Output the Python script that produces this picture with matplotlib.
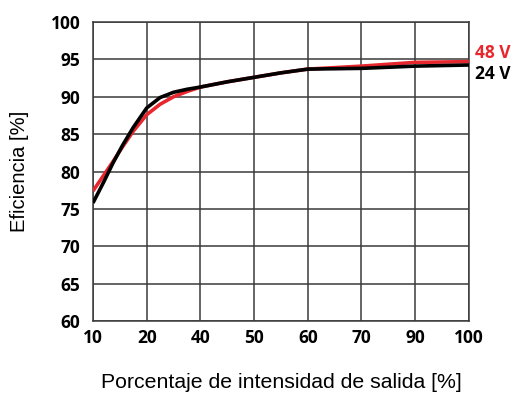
import numpy as np
import matplotlib.pyplot as plt

# x en posiciones de la rejilla (0..7), etiquetas tal como aparecen
tick_labels = ['10', '20', '40', '50', '60', '70', '90', '100']
x_pos = [0, 0.2, 0.37, 0.55, 0.75, 1.0, 1.25, 1.5, 1.75, 2.0, 2.5, 3.0, 3.5, 4.0, 5.0, 6.0, 7.0]
eff_48v = [77.4, 79.5, 81.3, 83.3, 85.4, 87.6, 89.0, 90.0, 90.7, 91.3, 92.0, 92.6, 93.2, 93.7, 94.1, 94.6, 94.7]
eff_24v = [75.8, 78.6, 81.1, 83.5, 85.9, 88.5, 89.9, 90.6, 91.0, 91.3, 92.0, 92.6, 93.2, 93.7, 93.8, 94.1, 94.25]
y_ticks = [60, 65, 70, 75, 80, 85, 90, 95, 100]

fig = plt.figure(figsize=(5.21, 3.96), dpi=100)
ax = fig.add_axes([0.1785, 0.1894, 0.7215, 0.755])

ax.plot(x_pos, eff_48v, color='#e8262d', lw=2.6, solid_capstyle='butt', zorder=3)
ax.plot(x_pos, eff_24v, color='black', lw=2.6, solid_capstyle='butt', zorder=4)

ax.set_xlim(0, 7)
ax.set_ylim(60, 100)
ax.set_xticks(range(len(tick_labels)))
ax.set_xticklabels(tick_labels)
ax.set_yticks(y_ticks)
ax.grid(True, color='#3a3a3a', lw=1.1)
ax.tick_params(axis='x', length=0, pad=6)
ax.tick_params(axis='y', length=0, pad=9)
for lab in ax.get_xticklabels() + ax.get_yticklabels():
    lab.set_fontfamily('Open Sans')
    lab.set_fontweight('bold')
    lab.set_fontsize(12.5)
for s in ax.spines.values():
    s.set_color('#3a3a3a')
    s.set_linewidth(1.1)

ax.set_xlabel('Porcentaje de intensidad de salida [%]', fontsize=15.3,
              family='Liberation Sans')
ax.set_ylabel('Eficiencia [%]', fontsize=14.5, family='Liberation Sans')
ax.xaxis.set_label_coords(0.5, -0.205)
ax.yaxis.set_label_coords(-0.195, 0.5)
ax.xaxis.label.set_va('center')
ax.yaxis.label.set_va('center')

ax.text(7.12, 95.8, '48 V', color='#e8262d', fontsize=12.5,
        fontweight='bold', family='Open Sans', va='center', ha='left', clip_on=False)
ax.text(7.12, 93.1, '24 V', color='black', fontsize=12.5,
        fontweight='bold', family='Open Sans', va='center', ha='left', clip_on=False)

fig.savefig('out.png', dpi=100)
